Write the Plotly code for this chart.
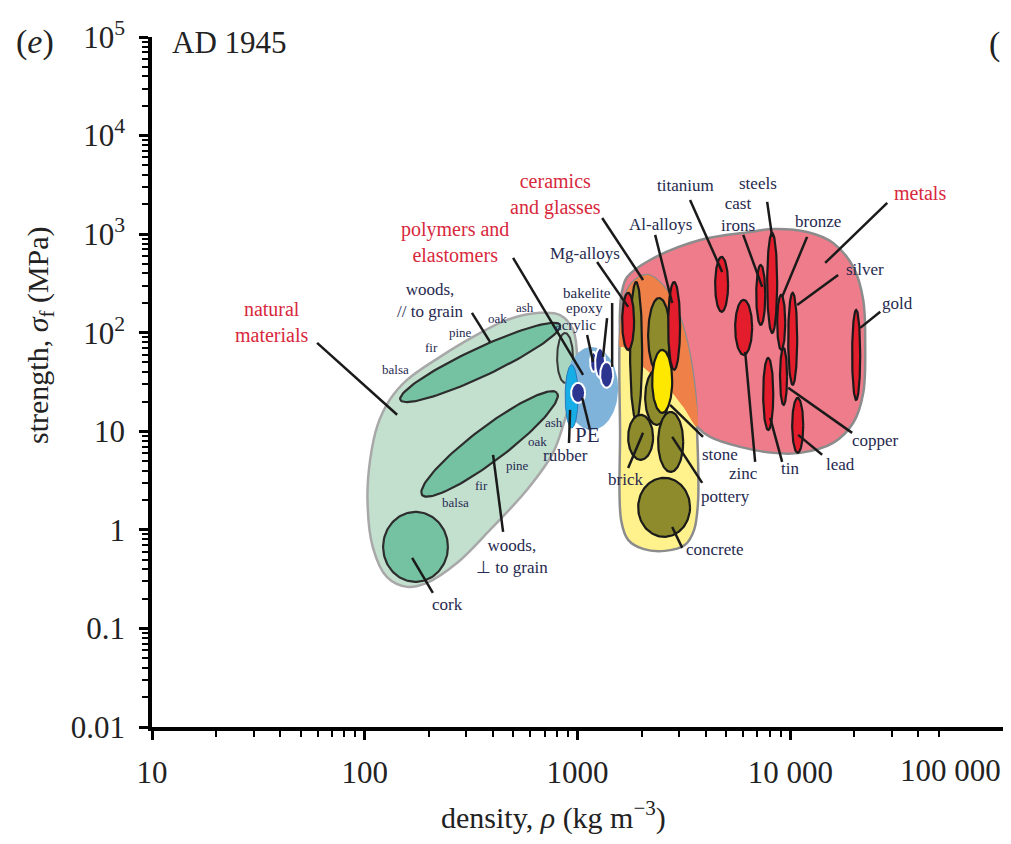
import numpy as np
import plotly.graph_objects as go

# ---------------- layout constants ----------------
# page body has an 8px margin; the figure is sized so that the plot area sits
# at window pixels x 152..1003, y 37..727
W, H = 995, 828
ML, MR, MT, MB = 144, 0, 29, 109
OFF = 8
X_RANGE = [1, 5]     # log10 density (kg m^-3)
Y_RANGE = [-2, 5]    # log10 strength (MPa)
PW, PH = W - ML - MR, H - MT - MB
KX = PW / (X_RANGE[1] - X_RANGE[0])   # px per decade
KY = PH / (Y_RANGE[1] - Y_RANGE[0])
SERIF = "Liberation Serif, Times New Roman, serif"

# ---------------- axis ticks ----------------
x_tick_vals = [10, 100, 1000, 10000]
x_tick_text = ["10", "100", "1000", "10 000"]
x_last_label = "100 000"
y_tick_vals = [0.01, 0.1, 1, 10, 100, 1000, 10000, 100000]
y_tick_text = ["0.01", "0.1", "1", "10", "10<sup>2</sup>", "10<sup>3</sup>", "10<sup>4</sup>", "10<sup>5</sup>"]

# ---------------- envelopes (outline points: density, strength) ----------------
natural_env_rho = [115, 131, 158, 226, 323, 467, 667, 828, 953, 995, 953, 893, 767, 579, 388, 272, 196, 158, 127, 109, 103, 106]
natural_env_sig = [11.6, 20.8, 33.2, 56.9, 90.7, 135, 159, 151, 107, 53, 23.4, 15.4, 6.04, 2.55, 1.0, 0.463, 0.29, 0.264, 0.333, 0.673, 2.01, 5.13]

metals_env_rho = [1710, 2193, 3767, 6470, 8320, 12000, 15900, 19770, 22030, 22500, 22030, 19770, 15900, 11140, 8320, 5808, 4200, 3647, 3136, 2635, 2033, 1637, 1585, 1637]
metals_env_sig = [368, 547, 873, 1052, 1129, 1052, 815, 465, 215, 78.9, 24.5, 12.2, 7.62, 6.04, 6.04, 6.95, 8.78, 11.1, 17.7, 28.2, 45, 71.8, 170, 292]

ceramics_env_rho = [1603, 1585, 1585, 1675, 1868, 2148, 2500, 2877, 3280, 3575, 3647, 3690, 3533, 3204, 2583, 2033, 1730]
ceramics_env_sig = [1.26, 10, 107, 242, 343, 385, 306, 191, 78.9, 24.5, 10.3, 2.01, 1.0, 0.705, 0.612, 0.641, 0.792]

overlap_env_rho = [1585, 1585, 1675, 1868, 2148, 2500, 2877, 3280, 3575, 3647, 3136, 2635, 2033, 1637]
overlap_env_sig = [71.8, 107, 242, 343, 385, 306, 191, 78.9, 24.5, 11.1, 17.7, 28.2, 45, 71.8]

# polymer envelope (density range, strength range)
polymer_env = dict(rho=(875, 1552), sig=(10.3, 71.8))

# ---------------- material bubbles (density lo/hi, strength lo/hi) ----------------
wood_small_rho = (802, 953)
wood_small_sig = (31, 99.5)
cork_rho = (122, 246)
cork_sig = (0.297, 1.52)
# rotated wood bubbles: tip densities, tip strengths, minor/major ratio
woods_par_rho = (147, 828)
woods_par_sig = (20.8, 120)
woods_par_ratio = 0.16
woods_perp_rho = (186, 802)
woods_perp_sig = (2.26, 24.5)
woods_perp_ratio = 0.2

polymer_names = ["rubber", "PE", "acrylic", "epoxy", "bakelite"]
polymer_rho_lo = [875, 933, 1146, 1210, 1277]
polymer_rho_hi = [1007, 1086, 1236, 1349, 1471]
polymer_sig_lo = [10.8, 19.4, 40, 34.8, 27.6]
polymer_sig_hi = [47.1, 31, 63.9, 70.2, 50.6]

ceramic_names = ["glasses", "ceramics", "rock", "stone", "brick", "pottery", "concrete"]
ceramic_rho_lo = [1766, 2148, 2080, 2244, 1730, 2393, 1928]
ceramic_rho_hi = [2013, 2723, 2667, 2787, 2266, 3140, 3381]
ceramic_sig_lo = [13.1, 39, 11.6, 15.4, 5.13, 3.87, 0.85]
ceramic_sig_hi = [327, 225, 42, 67, 14.7, 15.7, 3.37]

metal_names = ["Mg-alloys", "Al-alloys", "titanium", "zinc", "cast irons", "steels", "bronze", "silver", "gold", "tin", "copper", "lead"]
metal_rho_lo = [1622, 2667, 4436, 5509, 6920, 7790, 8680, 9780, 19540, 7460, 8950, 10210]
metal_rho_hi = [1845, 3035, 5103, 6620, 7630, 8680, 9470, 10780, 21320, 8320, 9660, 11510]
metal_sig_lo = [67, 42, 163, 59.6, 120, 99.5, 67, 29.6, 20.8, 10.3, 18.5, 6.04]
metal_sig_hi = [254, 327, 588, 215, 488, 1028, 242, 254, 170, 55.5, 70.2, 21.8]

# ---------------- leader lines (from label -> to bubble) ----------------
lead_rho0 = [3381, 6012, 7790, 12000, 28570, 16790, 26490, 19540, 14120, 9160, 6840, 2317, 1306, 1236, 498, 1455, 1377, 1110, 1146, 912, 319, 447, 209, 59.7, 1730, 3890, 3855, 3105]
lead_sig0 = [2222, 982, 2124, 938, 2072, 385, 163, 9.64, 5.77, 4.90, 4.90, 982, 1459, 522, 574, 200, 141, 95, 10.3, 7.62, 159, 0.955, 0.23, 78.9, 4.25, 8.78, 3.0, 0.656]
lead_rho1 = [4786, 7380, 8220, 9160, 14590, 10780, 21320, 9780, 10890, 8050, 6140, 2787, 2033, 1730, 1062, 1455, 1318, 1183, 1052, 923, 388, 401, 167, 142, 2033, 2723, 2787, 2787]
lead_sig1 = [414, 292, 938, 231, 510, 191, 112, 27.6, 9.19, 13.7, 63.9, 200, 343, 183, 37.3, 45, 56.9, 50.6, 21.8, 16.5, 80.7, 5.77, 0.52, 14.7, 9.64, 18.5, 8.78, 1.07]

# ---------------- labels ----------------
group_labels = ["natural<br>materials", "polymers and<br>elastomers", "ceramics<br>and glasses", "metals"]
group_rho = [36.6, 266, 785, 40830]
group_sig = [129, 834, 2500, 2618]

mat_labels = ["titanium", "cast<br>irons", "steels", "bronze", "silver", "gold", "copper", "lead", "tin", "zinc",
              "Al-alloys", "Mg-alloys", "stone", "pottery", "concrete", "brick", "rubber",
              "woods,<br>// to grain", "woods,<br>\u22a5 to grain", "cork"]
mat_rho = [3206, 5690, 7063, 13520, 22500, 31850, 25060, 17180, 10000, 6012,
           2443, 1086, 4677, 4943, 4436, 1675, 880, 203, 493, 246]
mat_sig = [3083, 1567, 3229, 1330, 434, 200, 8.0, 4.56, 4.16, 3.70,
           1240, 630, 5.77, 2.16, 0.63, 3.21, 5.64, 210, 0.532, 0.173]

pe_label, pe_rho, pe_sig = "PE", 1120, 9.19

poly_labels = ["bakelite", "epoxy", "acrylic"]
poly_rho = [1110, 1074, 975]
poly_sig = [254, 179, 120]

wood_labels = ["balsa", "fir", "pine", "oak", "ash", "ash", "oak", "pine", "fir", "balsa"]
wood_rho = [139, 207, 281, 419, 567, 776, 646, 520, 352, 266]
wood_sig = [42, 70.2, 99.5, 141, 179, 12.2, 7.82, 4.46, 2.79, 1.88]

# ---------------- colours ----------------
C_NAT_ENV = "#c3e0cf"
C_WOOD = "#74c2a2"
C_WOOD_SMALL = "#a9d6c0"
C_POLY_ENV = "#80b3da"
C_RUBBER = "#17aee8"
C_POLY = "#2b3590"
C_MET_ENV = "#ee7c8a"
C_CER_ENV = "#fff28c"
C_OVERLAP = "#ef8048"
C_OLIVE = "#8d8b2b"
C_YELLOW = "#ffe800"
C_RED = "#e31d2b"
C_TEXT = "#26294f"
C_GROUP = "#d8283c"

T = np.linspace(0, 2 * np.pi, 120)


def ellipse_aligned(rho, sig):
    lx = np.log10(np.array(rho, dtype=float))
    ly = np.log10(np.array(sig, dtype=float))
    cx, cy = lx.mean(), ly.mean()
    ax, ay = (lx[1] - lx[0]) / 2, (ly[1] - ly[0]) / 2
    return 10 ** (cx + ax * np.cos(T)), 10 ** (cy + ay * np.sin(T))


def ellipse_rotated(rho, sig, ratio):
    a = np.array([np.log10(rho[0]) * KX, np.log10(sig[0]) * KY])
    b = np.array([np.log10(rho[1]) * KX, np.log10(sig[1]) * KY])
    c = (a + b) / 2
    u = (b - a) / 2
    v = np.array([-u[1], u[0]]) * ratio
    px = c[0] + u[0] * np.cos(T) + v[0] * np.sin(T)
    py = c[1] + u[1] * np.cos(T) + v[1] * np.sin(T)
    return 10 ** (px / KX), 10 ** (py / KY)


fig = go.Figure()


def add_shape(x, y, fill, line_color=None, line_width=0, spline=False):
    x = list(x) + [x[0]]
    y = list(y) + [y[0]]
    fig.add_trace(go.Scatter(
        x=x, y=y, mode="lines", fill="toself", fillcolor=fill,
        line=dict(color=line_color or fill, width=line_width,
                  shape="spline" if spline else "linear", smoothing=1.0),
        hoverinfo="skip", showlegend=False))


def add_bubble(rho, sig, fill, line_color="#1e1e1e", line_width=2):
    x, y = ellipse_aligned(rho, sig)
    add_shape(x, y, fill, line_color, line_width)


# natural materials
add_shape(natural_env_rho, natural_env_sig, C_NAT_ENV, "#a8a8a8", 2.5, spline=True)
x, y = ellipse_rotated(woods_par_rho, woods_par_sig, woods_par_ratio)
add_shape(x, y, C_WOOD, "#2d2d2d", 2.2)
x, y = ellipse_rotated(woods_perp_rho, woods_perp_sig, woods_perp_ratio)
add_shape(x, y, C_WOOD, "#2d2d2d", 2.2)
add_bubble(cork_rho, cork_sig, C_WOOD, "#2d2d2d", 2.2)
add_bubble(wood_small_rho, wood_small_sig, C_WOOD_SMALL, "#3a3a3a", 2)

# polymers
add_bubble(polymer_env["rho"], polymer_env["sig"], C_POLY_ENV, C_POLY_ENV, 0)
for i, n in enumerate(polymer_names):
    if n == "rubber":
        add_bubble((polymer_rho_lo[i], polymer_rho_hi[i]), (polymer_sig_lo[i], polymer_sig_hi[i]), C_RUBBER, "#2a78b8", 1)
    else:
        add_bubble((polymer_rho_lo[i], polymer_rho_hi[i]), (polymer_sig_lo[i], polymer_sig_hi[i]), C_POLY, "white", 2)

# metals and ceramics envelopes
add_shape(metals_env_rho, metals_env_sig, C_MET_ENV, "#8c8c8c", 2.5, spline=True)
add_shape(ceramics_env_rho, ceramics_env_sig, C_CER_ENV, "#8c8c8c", 2.5, spline=True)
add_shape(overlap_env_rho, overlap_env_sig, C_OVERLAP, C_OVERLAP, 0, spline=True)

# ceramic bubbles
for i, n in enumerate(ceramic_names):
    col = C_YELLOW if n == "stone" else C_OLIVE
    add_bubble((ceramic_rho_lo[i], ceramic_rho_hi[i]), (ceramic_sig_lo[i], ceramic_sig_hi[i]), col, "#1a1a1a", 2.2)

# metal bubbles
for i, n in enumerate(metal_names):
    add_bubble((metal_rho_lo[i], metal_rho_hi[i]), (metal_sig_lo[i], metal_sig_hi[i]), C_RED, "#1a1a1a", 2.2)

# leader lines
lx, ly = [], []
for a, b, c, d in zip(lead_rho0, lead_sig0, lead_rho1, lead_sig1):
    lx += [a, c, None]
    ly += [b, d, None]
fig.add_trace(go.Scatter(x=lx, y=ly, mode="lines", line=dict(color="#1a1a1a", width=2.5),
                         hoverinfo="skip", showlegend=False))


def add_label(text, rho, sig, size, color):
    fig.add_annotation(x=np.log10(rho), y=np.log10(sig), xref="x", yref="y", text=text,
                       showarrow=False, xanchor="center", yanchor="middle", align="center",
                       font=dict(family=SERIF, size=size, color=color))


for t, r, s in zip(group_labels, group_rho, group_sig):
    add_label(t, r, s, 20, C_GROUP)
for t, r, s in zip(mat_labels, mat_rho, mat_sig):
    add_label(t, r, s, 17, C_TEXT)
add_label(pe_label, pe_rho, pe_sig, 21, C_TEXT)
for t, r, s in zip(poly_labels, poly_rho, poly_sig):
    add_label(t, r, s, 15, C_TEXT)
for t, r, s in zip(wood_labels, wood_rho, wood_sig):
    add_label(t, r, s, 13, C_TEXT)


# panel texts (positions given in window pixels, converted to paper units)
def paper_x(px):
    return (px - OFF - ML) / PW


def paper_y(py):
    return (H - MB - (py - OFF)) / PH


fig.add_annotation(x=paper_x(35), y=paper_y(42), xref="paper", yref="paper", text="(<i>e</i>)",
                   showarrow=False, xanchor="center", yanchor="middle",
                   font=dict(family=SERIF, size=34, color="#222"))
fig.add_annotation(x=paper_x(170), y=paper_y(43), xref="paper", yref="paper", text="AD 1945",
                   showarrow=False, xanchor="left", yanchor="middle",
                   font=dict(family=SERIF, size=31, color="#222"))
fig.add_annotation(x=paper_x(987), y=paper_y(44), xref="paper", yref="paper", text="(",
                   showarrow=False, xanchor="left", yanchor="middle",
                   font=dict(family=SERIF, size=34, color="#222"))
fig.add_annotation(x=1.0, y=paper_y(770), xref="paper", yref="paper", text=x_last_label,
                   showarrow=False, xanchor="right", yanchor="middle",
                   font=dict(family=SERIF, size=31, color="#222"))
fig.add_annotation(x=paper_x(40), y=paper_y(335), xref="paper", yref="paper",
                   text="strength, <i>\u03c3</i><sub>f</sub> (MPa)", textangle=-90,
                   showarrow=False, xanchor="center", yanchor="middle",
                   font=dict(family=SERIF, size=30, color="#222"))
fig.add_annotation(x=paper_x(553), y=paper_y(815), xref="paper", yref="paper",
                   text="density, <i>\u03c1</i> (kg m<sup>\u22123</sup>)",
                   showarrow=False, xanchor="center", yanchor="middle",
                   font=dict(family=SERIF, size=30, color="#222"))

x_minor = [k * 10 ** d for d in range(1, 5) for k in range(2, 10) if k * 10 ** d <= 50000]
y_minor = [k * 10.0 ** d for d in range(-2, 5) for k in range(2, 10)]

axis_common = dict(showgrid=False, zeroline=False, showline=True, linewidth=3.5, linecolor="black",
                   ticks="outside", ticklen=9, tickwidth=2.5, tickcolor="black",
                   tickfont=dict(family=SERIF, size=31, color="#222"))

fig.update_xaxes(type="log", range=X_RANGE, tickvals=x_tick_vals, ticktext=x_tick_text,
                 minor=dict(tickvals=x_minor, ticks="outside", ticklen=6, tickwidth=2, tickcolor="black", showgrid=False),
                 ticklabelstandoff=6, **axis_common)
fig.update_yaxes(type="log", range=Y_RANGE, tickvals=y_tick_vals, ticktext=y_tick_text,
                 minor=dict(tickvals=y_minor, ticks="outside", ticklen=6, tickwidth=2, tickcolor="black", showgrid=False),
                 ticklabelstandoff=8, **axis_common)

fig.update_layout(width=W, height=H, margin=dict(l=ML, r=MR, t=MT, b=MB),
                  plot_bgcolor="white", paper_bgcolor="white", showlegend=False)

fig.write_html("out.html")
